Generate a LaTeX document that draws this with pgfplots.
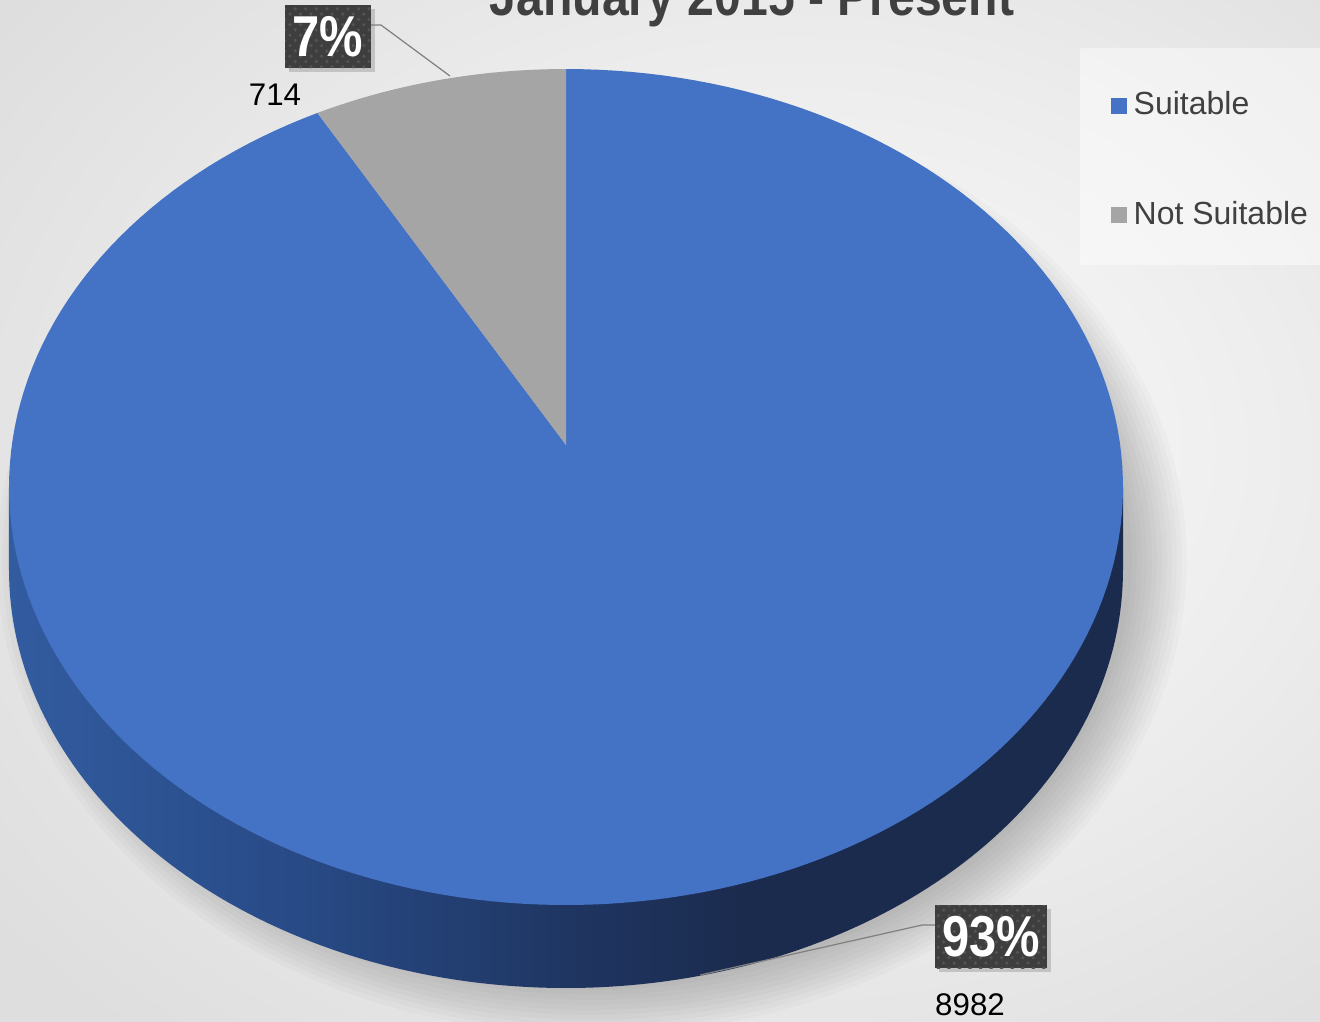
\documentclass[border=0pt]{standalone}
\usepackage{pgfplots}
\pgfplotsset{compat=1.18}
\usepackage{pgfplotstable}
\usepackage{fontspec}
\setmainfont{Liberation Sans}
\usetikzlibrary{shadows,patterns}
\definecolor{suit}{RGB}{68,114,196}
\definecolor{notsuit}{RGB}{165,165,165}
\definecolor{sideL}{RGB}{50,92,160}
\definecolor{sideA}{RGB}{40,74,134}
\definecolor{sideM}{RGB}{31,54,98}
\definecolor{sideD}{RGB}{27,43,78}
\definecolor{txt}{RGB}{64,64,64}
\definecolor{lblbox}{RGB}{62,62,62}
\definecolor{lbldot}{RGB}{84,84,84}
\definecolor{bgA}{RGB}{250,250,250}
\definecolor{bgB}{RGB}{236,236,236}
\definecolor{bgC}{RGB}{222,222,222}
\pgfdeclarehorizontalshading{sideshade}{100bp}{color(0bp)=(sideL); color(25bp)=(sideL); color(38bp)=(sideA); color(50bp)=(sideM); color(58bp)=(sideD); color(100bp)=(sideD)}
\pgfdeclareradialshading{bgshade}{\pgfpoint{8bp}{4bp}}{color(0bp)=(bgA); color(20bp)=(bgB); color(36bp)=(bgC); color(60bp)=(bgC)}
\pgfplotsset{sq legend/.style={legend image code/.code={\fill[##1] (0mm,-0.8mm) rectangle (1.6mm,0.8mm);}}}

\pgfplotstableread{
label value
Suitable 8982
NotSuitable 714
}\piedata

\begin{document}
\begin{tikzpicture}
\pgfplotstablegetelem{0}{value}\of\piedata \let\vA\pgfplotsretval
\pgfplotstablegetelem{1}{value}\of\piedata \let\vB\pgfplotsretval
\pgfmathsetmacro\frac{\vB/(\vA+\vB)}
\pgfmathsetmacro\angS{90+360*\frac}
\pgfmathsetmacro\angE{450}
\def\cx{566}\def\cy{487}\def\rx{557}\def\ry{418}\def\dep{83}
\begin{axis}[
  width=132mm, height=102.1mm, scale only axis,
  xmin=0, xmax=1320, ymin=0, ymax=1021, y dir=reverse,
  axis lines=none, ticks=none,
  legend style={at={(axis cs:1110,84)}, anchor=north west, draw=none, fill=none,
    font=\fontsize{9.1pt}{10.7pt}\selectfont, text=txt, row sep=6.7mm,
    inner sep=0pt, cells={anchor=west}},
  legend cell align=left,
]
% background
\fill[shading=bgshade] (axis cs:0,0) rectangle (axis cs:1320,1021);
% soft shadow
\pgfplotsinvokeforeach{0,5,...,55}{
\addplot[forget plot, draw=none, fill=black, fill opacity=0.018, domain=0:360, samples=120]
  ({592+(540+#1)*cos(x)}, {560+(420+#1)*sin(x)}) -- cycle;
}
% side of the pie
\addplot[forget plot, draw=none, shading=sideshade, domain=180:360, samples=150]
  ({\cx+\rx*cos(x)},{\cy+\dep-\ry*sin(x)}) -- (axis cs:1123,487) -- (axis cs:9,487) -- cycle;
% top face: Suitable
\addplot[forget plot, draw=none, fill=suit, domain=\angS:\angE, samples=200]
  ({\cx+\rx*cos(x)},{\cy-\ry*sin(x)}) -- (axis cs:566,445) -- cycle;
% top face: Not Suitable
\addplot[forget plot, draw=none, fill=notsuit, domain=90:\angS, samples=40]
  ({\cx+\rx*cos(x)},{\cy-\ry*sin(x)}) -- (axis cs:566,445) -- cycle;
% legend background
\fill[white, opacity=0.45] (axis cs:1080,48) rectangle (axis cs:1320,265);
\addlegendimage{sq legend, fill=suit, draw=none}
\addlegendentry{Suitable}
\addlegendimage{sq legend, fill=notsuit, draw=none}
\addlegendentry{Not Suitable}
% title (cut off at the top edge, as in the reference)
\node[anchor=base, text=txt, font=\bfseries\fontsize{13.7pt}{16pt}\selectfont] at (axis cs:752,15) {\scalebox{1}[1.15]{January 2015 - Present}};
% leader lines
\draw[gray, line width=0.35pt] (axis cs:371,25) -- (axis cs:381,25) -- (axis cs:450,76);
\draw[gray, line width=0.35pt] (axis cs:935,925) -- (axis cs:922,925) -- (axis cs:700,975);
% percent boxes
\node[fill=lblbox, postaction={pattern=crosshatch dots, pattern color=lbldot}, drop shadow={shadow xshift=0.4mm, shadow yshift=-0.4mm, opacity=0.35},
  minimum width=8.6mm, minimum height=6.3mm, inner sep=0pt, text=white,
  font=\bfseries\fontsize{13.9pt}{16pt}\selectfont] at (axis cs:328,36.5) {\scalebox{1}[1.18]{7\%}};
\node[fill=lblbox, postaction={pattern=crosshatch dots, pattern color=lbldot}, drop shadow={shadow xshift=0.4mm, shadow yshift=-0.4mm, opacity=0.35},
  minimum width=11.2mm, minimum height=6.3mm, inner sep=0pt, text=white,
  font=\bfseries\fontsize{13.9pt}{16pt}\selectfont] at (axis cs:991,936.5) {\scalebox{1}[1.18]{93\%}};
% value labels
\node[text=black, font=\fontsize{8.9pt}{10pt}\selectfont] at (axis cs:275,95) {714};
\node[text=black, font=\fontsize{8.9pt}{10pt}\selectfont] at (axis cs:970,1005) {8982};
\end{axis}
\pgfresetboundingbox
\useasboundingbox (0,0) rectangle (132mm,102.1mm);
\end{tikzpicture}
\end{document}
